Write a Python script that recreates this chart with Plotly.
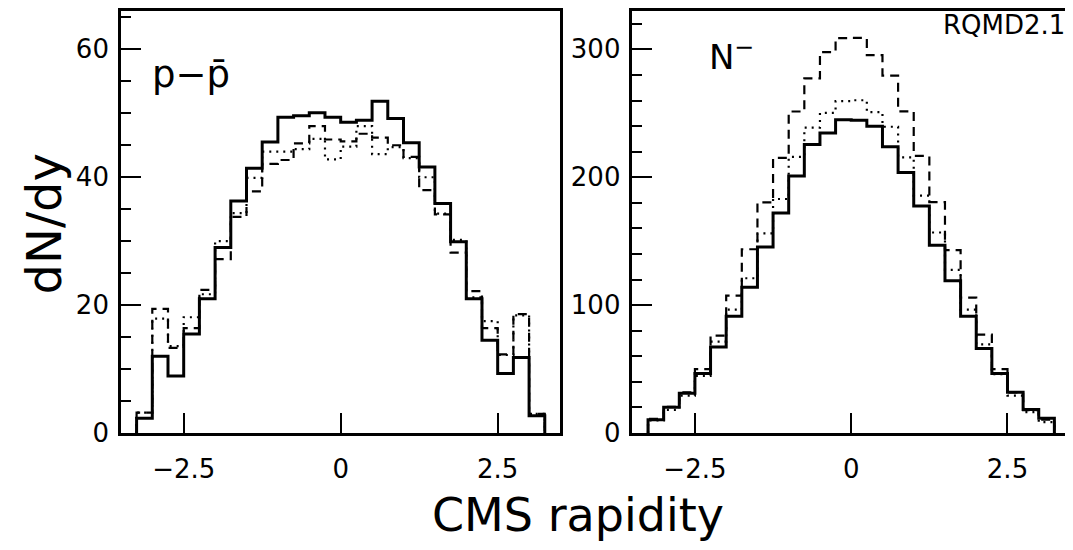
import plotly.graph_objects as go

# ---------------- data ----------------
rapidity_centers = [-3.125, -2.875, -2.625, -2.375, -2.125, -1.875, -1.625, -1.375,
                    -1.125, -0.875, -0.625, -0.375, -0.125, 0.125, 0.375, 0.625,
                    0.875, 1.125, 1.375, 1.625, 1.875, 2.125, 2.375, 2.625, 2.875, 3.125]

# left panel: p - pbar
pp_solid = [2.3, 12.0, 8.9, 15.5, 21.0, 29.0, 36.3, 41.4, 45.5, 49.4, 49.6, 50.1, 49.4,
            48.6, 48.9, 51.9, 49.2, 45.4, 41.6, 35.9, 29.9, 21.0, 14.5, 9.3, 11.8, 2.7]
pp_dashed = [3.2, 19.4, 13.3, 16.4, 22.4, 27.2, 33.8, 37.8, 42.1, 42.7, 45.3, 48.0, 45.9,
             45.6, 46.8, 46.2, 45.0, 43.2, 38.0, 34.2, 28.2, 22.2, 16.4, 12.3, 18.6, 3.0]
pp_dotted = [3.2, 17.9, 13.6, 18.1, 21.7, 30.0, 34.4, 39.9, 44.0, 44.0, 44.4, 46.0, 42.8,
             44.8, 48.0, 43.6, 44.7, 43.0, 40.0, 34.3, 30.2, 21.2, 17.5, 12.2, 18.4, 3.0]

# right panel: N-
nm_solid = [10.3, 20.2, 31.0, 46.5, 67.2, 91.2, 114.0, 145.5, 172.1, 201.0, 225.6, 234.6, 245.0,
            244.6, 239.9, 223.9, 203.7, 177.5, 146.9, 119.1, 91.2, 66.1, 46.5, 31.8, 18.3, 11.6]
nm_dashed = [11.0, 20.5, 31.8, 49.9, 76.2, 107.5, 143.7, 180.4, 215.2, 251.4, 277.3, 297.9, 308.8,
             309.0, 295.5, 279.5, 251.5, 216.7, 180.5, 143.0, 105.9, 77.0, 49.9, 31.8, 17.8, 10.5]
nm_dotted = [9.8, 18.1, 29.2, 44.7, 71.5, 96.4, 121.0, 156.1, 183.0, 215.9, 238.8, 250.4, 259.5,
             260.2, 250.9, 239.5, 215.5, 185.7, 156.8, 127.6, 96.4, 69.3, 46.0, 29.2, 16.3, 8.5]

left_yticks = [0, 20, 40, 60]
right_yticks = [0, 100, 200, 300]
x_ticks = [-2.5, 0, 2.5]
x_ticklabels = ["\u22122.5", "0", "2.5"]

# ---------------- helpers ----------------
OFF = 8                            # default body margin of the html page
WIN_W, WIN_H = 1073, 550
W, H = WIN_W - OFF, WIN_H - 2 * OFF  # keep page inside window (no scrollbars)
PLOT_TOP, PLOT_BOTTOM = 8, 433       # frame in window pixels
MT = PLOT_TOP - OFF
MB = (OFF + H) - PLOT_BOTTOM
PLOT_H = PLOT_BOTTOM - PLOT_TOP


def hist_outline(centers, values):
    half = (centers[1] - centers[0]) / 2.0
    edges = [c - half for c in centers] + [centers[-1] + half]
    xs = [edges[0]] + edges
    ys = [0] + list(values) + [0]
    return xs, ys


def px_x(px):
    # window pixel -> paper x
    return (px - OFF) / W


def px_y(py):
    # window pixel -> paper y
    return (PLOT_BOTTOM - py) / PLOT_H


FONT = "DejaVu Sans"
styles = [
    dict(color="black", width=3, dash="solid"),
    dict(color="black", width=2.2, dash="9px,6px"),
    dict(color="black", width=2.2, dash="2px,5px"),
]

fig = go.Figure()

for series, xa, ya in [((pp_solid, pp_dashed, pp_dotted), "x", "y"),
                       ((nm_solid, nm_dashed, nm_dotted), "x2", "y2")]:
    for vals, st in zip(series, styles):
        xs, ys = hist_outline(rapidity_centers, vals)
        fig.add_trace(go.Scatter(x=xs, y=ys, mode="lines", line=dict(shape="hv", **st),
                                 xaxis=xa, yaxis=ya, showlegend=False, hoverinfo="skip"))

common_x = dict(range=[-3.5, 3.5], tickmode="array", tickvals=x_ticks, ticktext=x_ticklabels,
                ticks="inside", ticklen=20, tickwidth=1.5, tickcolor="black",
                showline=True, linecolor="black", linewidth=2.5, mirror=True,
                showgrid=False, zeroline=False,
                tickfont=dict(family=FONT, size=26, color="black"),
                ticklabelstandoff=11)
common_y = dict(ticks="inside", ticklen=20, tickwidth=1.5, tickcolor="black",
                showline=True, linecolor="black", linewidth=2.5, mirror=True,
                showgrid=False, zeroline=False,
                tickfont=dict(family=FONT, size=26, color="black"),
                ticklabelstandoff=4, domain=[0, 1])

fig.update_layout(
    width=W, height=H,
    margin=dict(l=0, r=0, t=MT, b=MB, pad=0),
    paper_bgcolor="white", plot_bgcolor="white",
    xaxis=dict(common_x, domain=[px_x(121), px_x(561)], anchor="y"),
    xaxis2=dict(common_x, domain=[px_x(633), px_x(1071)], anchor="y2"),
    yaxis=dict(common_y, range=[0, 66], tickmode="array", tickvals=left_yticks,
               minor=dict(dtick=5, ticklen=10, ticks="inside", tickwidth=1.5, tickcolor="black"),
               anchor="x"),
    yaxis2=dict(common_y, range=[0, 330], tickmode="array", tickvals=right_yticks,
                minor=dict(dtick=20, ticklen=10, ticks="inside", tickwidth=1.5, tickcolor="black"),
                anchor="x2"),
)

fig.add_annotation(text="CMS rapidity", xref="paper", yref="paper",
                   x=px_x(579), y=px_y(516), xanchor="center", yanchor="middle",
                   showarrow=False, font=dict(family=FONT, size=46, color="black"))
fig.add_annotation(text="dN/dy", xref="paper", yref="paper", textangle=-90,
                   x=px_x(45), y=px_y(222), xanchor="center", yanchor="middle",
                   showarrow=False, font=dict(family=FONT, size=48, color="black"))
fig.add_annotation(text="p\u2212p\u0304", xref="paper", yref="paper",
                   x=px_x(150), y=px_y(72), xanchor="left", yanchor="middle",
                   showarrow=False, font=dict(family=FONT, size=37, color="black"))
fig.add_annotation(text="N<sup>\u2212</sup>", xref="paper", yref="paper",
                   x=px_x(708), y=px_y(52), xanchor="left", yanchor="middle",
                   showarrow=False, font=dict(family=FONT, size=34, color="black"))
fig.add_annotation(text="RQMD2.1", xref="paper", yref="paper",
                   x=px_x(1068), y=px_y(22), xanchor="right", yanchor="middle",
                   showarrow=False, font=dict(family=FONT, size=26, color="black"))

fig.write_html("out.html")
